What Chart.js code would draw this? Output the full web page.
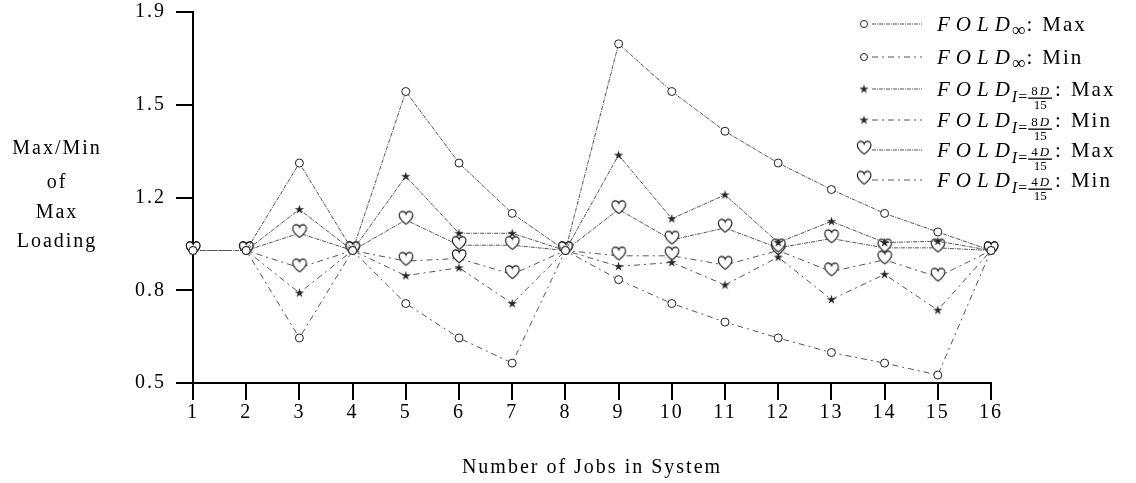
<!DOCTYPE html>
<html lang="en">
<head>
<meta charset="UTF-8">
<title>Max/Min of Max Loading</title>
<script src="https://cdn.jsdelivr.net/npm/chart.js"></script>
<style>
  html, body { margin: 0; padding: 0; background: #fff; }
  #chart { display: block; }
</style>
</head>
<body>
<canvas id="chart" width="1136" height="483"></canvas>
<script>
// categories and values
const jobs = ['1', '2', '3', '4', '5', '6', '7', '8', '9', '10', '11', '12', '13', '14', '15', '16'];

const foldInfMax = [1.0, 1.0, 1.33, 1.0, 1.60, 1.33, 1.14, 1.0, 1.78, 1.60, 1.45, 1.33, 1.23, 1.14, 1.07, 1.0];
const foldInfMin = [1.0, 1.0, 0.67, 1.0, 0.80, 0.67, 0.575, 1.0, 0.89, 0.80, 0.73, 0.67, 0.615, 0.575, 0.53, 1.0];
const fold8Max   = [1.0, 1.0, 1.155, 1.0, 1.28, 1.065, 1.065, 1.0, 1.36, 1.12, 1.21, 1.03, 1.11, 1.03, 1.035, 1.0];
const fold8Min   = [1.0, 1.0, 0.84, 1.0, 0.905, 0.935, 0.80, 1.0, 0.94, 0.955, 0.87, 0.975, 0.815, 0.91, 0.775, 1.0];
const fold4Max   = [1.0, 1.0, 1.065, 1.0, 1.115, 1.02, 1.02, 1.0, 1.155, 1.04, 1.085, 1.01, 1.045, 1.01, 1.01, 1.0];
const fold4Min   = [1.0, 1.0, 0.935, 1.0, 0.96, 0.97, 0.91, 1.0, 0.98, 0.98, 0.945, 1.0, 0.92, 0.965, 0.90, 1.0];

// y ticks: evenly spaced, printed with one decimal as in the original
const yTickValues = [0.5, 0.85, 1.2, 1.55, 1.9];
const yTickLabels = ['0.5', '0.8', '1.2', '1.5', '1.9'];

const seriesNames = ['FOLD∞: Max', 'FOLD∞: Min', 'FOLD I=8D/15: Max', 'FOLD I=8D/15: Min', 'FOLD I=4D/15: Max', 'FOLD I=4D/15: Min'];
// pieces used to typeset the legend entries
const legendSub = ['∞', '∞', '8D', '8D', '4D', '4D'];
const legendKind = ['Max', 'Min', 'Max', 'Min', 'Max', 'Min'];

const yTitleLines = ['Max/Min', 'of', 'Max', 'Loading'];
const xTitle = 'Number of Jobs in System';

const SERIF = '"Liberation Serif", "Times New Roman", serif';
const LINE = '#555';
const MAX_DASH = [4, 1, 1, 1];
const MIN_DASH = [6, 4, 2, 4];

// marker images
function makeStar() {
  const c = document.createElement('canvas');
  c.width = 11; c.height = 11;
  const g = c.getContext('2d');
  g.beginPath();
  for (let i = 0; i < 10; i++) {
    const r = i % 2 === 0 ? 5 : 1.8;
    const a = -Math.PI / 2 + i * Math.PI / 5;
    const px = 5.5 + r * Math.cos(a), py = 5.8 + r * Math.sin(a);
    if (i === 0) g.moveTo(px, py); else g.lineTo(px, py);
  }
  g.closePath();
  g.fillStyle = '#222';
  g.fill();
  return c;
}

function makeHeart() {
  const c = document.createElement('canvas');
  c.width = 18; c.height = 21;
  const g = c.getContext('2d');
  g.translate(1.5, 1);
  g.scale(0.85, 0.85);
  g.beginPath();
  g.moveTo(9, 16);
  g.bezierCurveTo(3, 11.5, 1, 8.5, 1, 5.5);
  g.bezierCurveTo(1, 2.8, 3, 1, 5, 1);
  g.bezierCurveTo(7, 1, 8.5, 2.5, 9, 4);
  g.bezierCurveTo(9.5, 2.5, 11, 1, 13, 1);
  g.bezierCurveTo(15, 1, 17, 2.8, 17, 5.5);
  g.bezierCurveTo(17, 8.5, 15, 11.5, 9, 16);
  g.closePath();
  g.fillStyle = '#fff';
  g.fill();
  g.lineWidth = 1.3;
  g.strokeStyle = '#111';
  g.stroke();
  return c;
}

const starImg = makeStar();
const heartImg = makeHeart();

function series(label, data, style, dash) {
  const circle = style === 'circle';
  return {
    label: label,
    data: data,
    borderColor: LINE,
    borderWidth: 1,
    borderDash: dash,
    fill: false,
    tension: 0,
    pointStyle: style,
    pointRadius: circle ? 4 : 8,
    pointBorderColor: '#222',
    pointBackgroundColor: '#fff',
    pointBorderWidth: 1
  };
}

const spacing = {
  id: 'spacing',
  beforeLayout(chart) { chart.ctx.letterSpacing = '2px'; },
  beforeDraw(chart) { chart.ctx.letterSpacing = '2px'; }
};

const yTitle = {
  id: 'yTitle',
  afterDraw(chart) {
    const ctx = chart.ctx;
    const ys = [149, 183, 213, 242];
    ctx.save();
    ctx.font = '20px ' + SERIF;
    ctx.letterSpacing = '2px';
    ctx.fillStyle = '#000';
    ctx.textAlign = 'center';
    ctx.textBaseline = 'middle';
    yTitleLines.forEach((t, i) => ctx.fillText(t, 57, ys[i]));
    ctx.restore();
  }
};

const foldLegend = {
  id: 'foldLegend',
  afterDraw(chart) {
    const ctx = chart.ctx;
    const rows = [24, 57, 89, 120, 150, 180];
    ctx.save();
    ctx.fillStyle = '#000';
    ctx.textBaseline = 'alphabetic';
    ctx.textAlign = 'left';
    chart.data.datasets.forEach((ds, i) => {
      const y = rows[i];
      // line sample
      ctx.save();
      ctx.strokeStyle = LINE;
      ctx.lineWidth = 1;
      ctx.setLineDash(ds.borderDash);
      ctx.beginPath();
      ctx.moveTo(872, y);
      ctx.lineTo(922, y);
      ctx.stroke();
      ctx.restore();
      // marker
      if (ds.pointStyle === 'circle') {
        ctx.save();
        ctx.strokeStyle = '#222';
        ctx.lineWidth = 1;
        ctx.beginPath();
        ctx.arc(864, y, 3.5, 0, Math.PI * 2);
        ctx.stroke();
        ctx.restore();
      } else {
        const img = ds.pointStyle;
        ctx.drawImage(img, 864 - img.width / 2, y - img.height / 2);
      }
      // text
      const base = y + 7;
      let x = 937;
      ctx.font = 'italic 21px ' + SERIF;
      ctx.letterSpacing = '6px';
      ctx.fillText('FOLD', x, base);
      x += ctx.measureText('FOLD').width - 4;
      ctx.letterSpacing = '0px';
      if (legendSub[i] === '∞') {
        ctx.font = '19px ' + SERIF;
        ctx.fillText('∞', x, base + 5);
        x += ctx.measureText('∞').width + 1;
      } else {
        ctx.font = 'italic 16px ' + SERIF;
        ctx.fillText('I', x, base + 6);
        x += ctx.measureText('I').width + 1;
        ctx.font = '16px ' + SERIF;
        ctx.fillText('=', x, base + 6);
        x += ctx.measureText('=').width + 1;
        ctx.font = '13px ' + SERIF;
        const num = legendSub[i];
        const nw = ctx.measureText(num[0]).width;
        ctx.font = 'italic 13px ' + SERIF;
        const dw = ctx.measureText(num[1]).width;
        ctx.font = '13px ' + SERIF;
        const den = '15';
        const fw = Math.max(nw + dw + 4, ctx.measureText(den).width) + 4;
        ctx.fillText(num[0], x + 3, base - 1);
        ctx.font = 'italic 13px ' + SERIF;
        ctx.fillText(num[1], x + 5 + nw, base - 1);
        ctx.fillRect(x, base + 1.5, fw, 1.3);
        ctx.font = '13px ' + SERIF;
        ctx.textAlign = 'center';
        ctx.fillText(den, x + fw / 2, base + 13);
        ctx.textAlign = 'left';
        x += fw + 3;
      }
      ctx.font = '21px ' + SERIF;
      ctx.letterSpacing = '2px';
      ctx.fillText(':', x, base);
      x += ctx.measureText(':').width + 8;
      ctx.fillText(legendKind[i], x, base);
    });
    ctx.restore();
  }
};

const axisFont = { family: SERIF, size: 20 };

new Chart(document.getElementById('chart'), {
  type: 'line',
  data: {
    labels: jobs,
    datasets: [
      series(seriesNames[0], foldInfMax, 'circle', MAX_DASH),
      series(seriesNames[1], foldInfMin, 'circle', MIN_DASH),
      series(seriesNames[2], fold8Max, starImg, MAX_DASH),
      series(seriesNames[3], fold8Min, starImg, MIN_DASH),
      series(seriesNames[4], fold4Max, heartImg, MAX_DASH),
      series(seriesNames[5], fold4Min, heartImg, MIN_DASH)
    ]
  },
  options: {
    responsive: false,
    devicePixelRatio: 1,
    animation: false,
    layout: { padding: { left: 0, right: 145, top: 12, bottom: 0 } },
    plugins: {
      legend: { display: false },
      tooltip: { enabled: false }
    },
    scales: {
      x: {
        type: 'category',
        offset: false,
        grid: { display: true, drawOnChartArea: false, drawTicks: true, tickLength: 17, color: '#000', lineWidth: 2 },
        border: { display: true, color: '#000', width: 2 },
        ticks: { font: axisFont, color: '#000', padding: 1, maxRotation: 0, autoSkip: false },
        title: { display: true, text: xTitle, font: axisFont, color: '#000', padding: { top: 0, bottom: 3 } },
        afterFit: s => { s.height = 100; }
      },
      y: {
        min: 0.5,
        max: 1.9,
        afterBuildTicks: s => { s.ticks = yTickValues.map(v => ({ value: v })); },
        grid: { display: true, drawOnChartArea: false, drawTicks: true, tickLength: 17, color: '#000', lineWidth: 2 },
        border: { display: true, color: '#000', width: 2 },
        ticks: { font: axisFont, color: '#000', padding: 10, callback: (v, i) => yTickLabels[i] },
        afterFit: s => { s.width = 193; s.paddingTop = 0; s.paddingBottom = 0; }
      }
    }
  },
  plugins: [spacing, yTitle, foldLegend]
});
</script>
</body>
</html>
